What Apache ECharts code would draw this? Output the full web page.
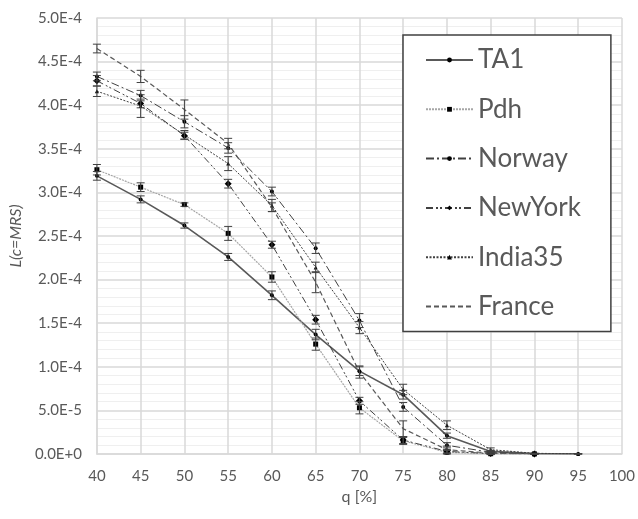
<!DOCTYPE html>
<html><head><meta charset="utf-8">
<script src="https://cdn.jsdelivr.net/npm/echarts@6/dist/echarts.min.js"></script>
<style>html,body{margin:0;padding:0;background:#fff}#c{width:638px;height:519px}</style>
</head><body><div id="c"></div>
<script>
// q [%]
const q = [40, 45, 50, 55, 60, 65, 70, 75, 80, 85, 90, 95];
// values in units of 1E-4
const TA1     = [3.19, 2.92, 2.62, 2.26, 1.82, 1.37, 0.95, 0.68, 0.21, 0.03, 0.004, 0.001];
const Pdh     = [3.26, 3.06, 2.86, 2.53, 2.03, 1.26, 0.53, 0.15, 0.02, 0.003, 0.001];
const Norway  = [4.33, 4.11, 3.81, 3.51, 3.01, 2.36, 1.53, 0.54, 0.10, 0.02, 0.002];
const NewYork = [4.28, 4.02, 3.65, 3.10, 2.40, 1.54, 0.61, 0.16, 0.03, 0.005, 0.001];
const India35 = [4.16, 3.99, 3.66, 3.33, 2.85, 2.14, 1.45, 0.74, 0.33, 0.05, 0.008, 0.002];
const France  = [4.65, 4.33, 3.95, 3.56, 2.83, 1.97, 0.94, 0.29, 0.05, 0.01, 0.002];
// error half-widths, units of 1E-4
const errTA1     = [0.05, 0.04, 0.03, 0.04, 0.05, 0.06, 0.05, 0.05, 0.03, 0.01, 0, 0];
const errPdh     = [0.06, 0.05, 0.02, 0.08, 0.06, 0.07, 0.07, 0.04, 0.02, 0.01, 0];
const errNorway  = [0.05, 0.06, 0.07, 0.06, 0.05, 0.06, 0.08, 0.05, 0.03, 0.01, 0];
const errNewYork = [0.06, 0.05, 0.04, 0.05, 0.04, 0.05, 0.04, 0.04, 0.02, 0.01, 0];
const errIndia35 = [0.06, 0.13, 0.05, 0.08, 0.07, 0.06, 0.07, 0.06, 0.05, 0.02, 0, 0];
const errFrance  = [0.05, 0.07, 0.11, 0.06, 0.05, 0.12, 0.07, 0.09, 0.04, 0.01, 0];
const scale = 1e-4;

const names = ['TA1', 'Pdh', 'Norway', 'NewYork', 'India35', 'France'];
const vals = [TA1, Pdh, Norway, NewYork, India35, France];
const errs = [errTA1, errPdh, errNorway, errNewYork, errIndia35, errFrance];
const styles = [
  {color: '#595959', width: 1.6, type: 'solid', symbol: 'circle', size: 4},
  {color: '#a6a6a6', width: 1.2, type: [2, 1], symbol: 'rect', size: 5},
  {color: '#404040', width: 1, type: [8, 3, 2, 3], symbol: 'circle', size: 4},
  {color: '#404040', width: 1, type: [7, 3, 2, 2, 2, 3], symbol: 'diamond', size: 7},
  {color: '#404040', width: 1, type: [2, 1.5], symbol: 'triangle', size: 4},
  {color: '#595959', width: 1.2, type: [5, 3], symbol: 'none', size: 0}
];
const FONT = 'Lato, "Open Sans", sans-serif';

const series = [];
names.forEach((n, i) => {
  const s = styles[i];
  const d = vals[i].map((v, k) => [q[k], v * scale]);
  series.push({
    name: n, type: 'line', data: d,
    symbol: s.symbol, symbolSize: s.size, showSymbol: s.symbol !== 'none',
    itemStyle: {color: '#000'},
    lineStyle: {color: s.color, width: s.width, type: s.type},
    z: 3, animation: false
  });
  const ed = vals[i].map((v, k) => [q[k], (v - errs[i][k]) * scale, (v + errs[i][k]) * scale]);
  series.push({
    type: 'custom', data: ed, z: 4, animation: false, silent: true,
    renderItem: function (params, api) {
      const lo = api.coord([api.value(0), api.value(1)]);
      const hi = api.coord([api.value(0), api.value(2)]);
      const w = 4;
      const st = {stroke: '#404040', lineWidth: 1};
      return {type: 'group', children: [
        {type: 'line', shape: {x1: lo[0], y1: lo[1], x2: hi[0], y2: hi[1]}, style: st},
        {type: 'line', shape: {x1: lo[0] - w, y1: lo[1], x2: lo[0] + w, y2: lo[1]}, style: st},
        {type: 'line', shape: {x1: hi[0] - w, y1: hi[1], x2: hi[0] + w, y2: hi[1]}, style: st}
      ]};
    }
  });
});

const legendData = names.map(n => n === 'France'
  ? {name: n, itemStyle: {color: 'rgba(0,0,0,0)', borderWidth: 0}}
  : {name: n});

const chart = echarts.init(document.getElementById('c'));
chart.setOption({
  animation: false,
  textStyle: {fontFamily: FONT},
  grid: {left: 94.5, right: 14, top: 18, bottom: 65},
  legend: {
    data: legendData, orient: 'vertical', left: 403, top: 35,
    backgroundColor: '#fff', borderColor: '#404040', borderWidth: 1.5, borderRadius: 0,
    padding: [10, 30, 10, 22], itemWidth: 47, itemHeight: 6, itemGap: 19.3,
    textStyle: {fontSize: 26, color: '#595959', fontFamily: FONT, lineHeight: 30},
    z: 10
  },
  xAxis: {
    type: 'value', min: 40, max: 100, interval: 5,
    name: 'q [%]', nameLocation: 'middle', nameGap: 34,
    nameTextStyle: {fontSize: 16, color: '#595959'},
    axisLine: {show: true, lineStyle: {color: '#d9d9d9', width: 1.5}},
    axisTick: {show: false},
    axisLabel: {fontSize: 15, color: '#595959', margin: 15},
    splitLine: {show: true, lineStyle: {color: '#d9d9d9', width: 1.5}}
  },
  yAxis: {
    type: 'value', min: 0, max: 5e-4, interval: 5e-5,
    name: 'L(c=MRS)', nameLocation: 'middle', nameGap: 68,
    nameTextStyle: {fontSize: 16, color: '#595959', fontStyle: 'italic'},
    axisLine: {show: true, lineStyle: {color: '#d9d9d9', width: 1.5}},
    axisTick: {show: false},
    axisLabel: {fontSize: 15, color: '#595959', margin: 15,
      formatter: v => Number(v).toExponential(1).toUpperCase()},
    splitLine: {show: true, lineStyle: {color: '#d9d9d9', width: 1.5}},
    minorTick: {show: false, splitNumber: 5},
    minorSplitLine: {show: true, lineStyle: {color: '#efefef', width: 1}}
  },
  series: series
});
</script></body></html>
